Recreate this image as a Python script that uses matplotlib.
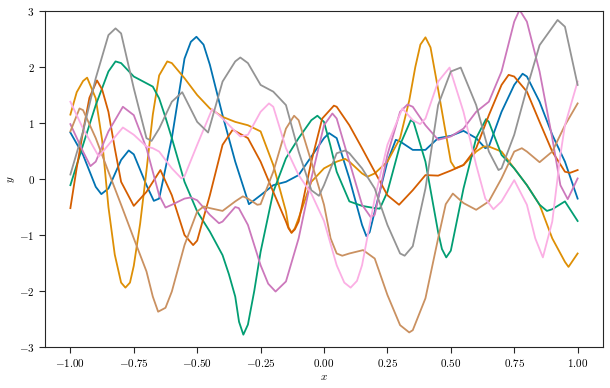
import matplotlib
matplotlib.use("Agg")
import matplotlib.pyplot as plt
from matplotlib.ticker import FuncFormatter

# values, one pair of lists per curve
blue_x = [-1.0, -0.95, -0.9, -0.878, -0.85, -0.8, -0.77, -0.75, -0.7, -0.671, -0.65, -0.6, -0.55,
          -0.525, -0.503, -0.475, -0.45, -0.4, -0.35, -0.296, -0.25, -0.2, -0.15, -0.1, -0.05,
          0.0, 0.02, 0.05, 0.1, 0.15, 0.167, 0.18, 0.2, 0.25, 0.283, 0.3, 0.35, 0.4, 0.45, 0.5,
          0.55, 0.6, 0.636, 0.65, 0.7, 0.75, 0.783, 0.8, 0.85, 0.9, 0.95, 1.0]
blue_y = [0.83, 0.43, -0.14, -0.27, -0.17, 0.34, 0.51, 0.44, -0.11, -0.39, -0.35, 0.73, 2.15,
          2.45, 2.54, 2.40, 2.04, 1.14, 0.31, -0.45, -0.29, -0.11, -0.05, 0.07, 0.40,
          0.73, 0.82, 0.73, 0.01, -0.82, -1.02, -0.95, -0.58, 0.31, 0.70, 0.67, 0.52, 0.52, 0.73, 0.77,
          0.86, 0.73, 0.55, 0.58, 1.20, 1.68, 1.88, 1.83, 1.38, 0.79, 0.31, -0.35]

orange_x = [-1.0, -0.975, -0.95, -0.934, -0.9, -0.875, -0.85, -0.825, -0.8, -0.783, -0.765, -0.75,
            -0.725, -0.7, -0.675, -0.65, -0.618, -0.6, -0.55, -0.5, -0.45, -0.4, -0.35, -0.3,
            -0.25, -0.2, -0.15, -0.14, -0.128, -0.115, -0.1, -0.05, 0.0, 0.05, 0.083, 0.1, 0.15,
            0.171, 0.2, 0.25, 0.3, 0.336, 0.36, 0.38, 0.4, 0.42, 0.45, 0.475, 0.5, 0.517, 0.55,
            0.6, 0.629, 0.65, 0.7, 0.75, 0.8, 0.85, 0.9, 0.95, 0.964, 1.0]
orange_y = [1.15, 1.55, 1.75, 1.81, 1.44, 0.70, -0.50, -1.35, -1.85, -1.94, -1.85, -1.55,
            -0.80, 0.15, 1.15, 1.85, 2.10, 2.07, 1.80, 1.50, 1.26, 1.11, 1.02, 0.96,
            0.85, 0.25, -0.58, -0.86, -0.96, -0.88, -0.70, -0.05, 0.19, 0.31, 0.36, 0.31, 0.10,
            0.04, 0.10, 0.31, 0.73, 1.40, 2.00, 2.40, 2.53, 2.35, 1.60, 0.95, 0.31, 0.19, 0.25,
            0.49, 0.58, 0.58, 0.49, 0.19, -0.11, -0.46, -1.06, -1.48, -1.57, -1.33]

green_x = [-1.0, -0.95, -0.9, -0.85, -0.822, -0.8, -0.75, -0.7, -0.675, -0.65, -0.625, -0.6,
           -0.55, -0.5, -0.45, -0.4, -0.375, -0.35, -0.335, -0.318, -0.3, -0.275, -0.25, -0.2,
           -0.15, -0.1, -0.05, -0.026, 0.0, 0.025, 0.05, 0.1, 0.15, 0.2, 0.22, 0.25, 0.3, 0.342,
           0.353, 0.4, 0.45, 0.465, 0.482, 0.5, 0.55, 0.6, 0.639, 0.65, 0.7, 0.75, 0.8, 0.85,
           0.879, 0.9, 0.95, 1.0]
green_y = [-0.11, 0.61, 1.32, 1.92, 2.10, 2.07, 1.83, 1.71, 1.65, 1.44, 1.10, 0.73,
           -0.05, -0.58, -0.94, -1.36, -1.70, -2.10, -2.55, -2.78, -2.60, -2.00, -1.30, -0.23,
           0.37, 0.73, 1.05, 1.13, 1.02, 0.60, 0.13, -0.40, -0.48, -0.52, -0.53, -0.23, 0.61, 1.05,
           1.02, 0.31, -0.95, -1.25, -1.40, -1.28, -0.17, 0.73, 1.07, 1.02, 0.43, 0.19, -0.11, -0.46,
           -0.57, -0.54, -0.40, -0.75]

red_x = [-1.0, -0.975, -0.95, -0.925, -0.895, -0.875, -0.85, -0.825, -0.8, -0.75, -0.7, -0.645,
         -0.6, -0.55, -0.516, -0.5, -0.45, -0.4, -0.36, -0.3, -0.25, -0.2, -0.15, -0.14, -0.128,
         -0.115, -0.1, -0.05, -0.007, 0.039, 0.05, 0.1, 0.15, 0.2, 0.25, 0.296, 0.35, 0.4, 0.45,
         0.5, 0.55, 0.6, 0.65, 0.7, 0.728, 0.75, 0.8, 0.85, 0.9, 0.95, 0.97, 1.0]
red_y = [-0.52, 0.20, 0.85, 1.45, 1.76, 1.60, 1.20, 0.55, -0.05, -0.48, -0.23, 0.16,
         -0.29, -1.00, -1.18, -1.10, -0.29, 0.61, 0.88, 0.73, 0.31, -0.23, -0.76, -0.88, -0.96,
         -0.90, -0.76, 0.31, 1.08, 1.31, 1.29, 0.96, 0.55, 0.13, -0.29, -0.46, -0.20, 0.07, 0.06,
         0.15, 0.25, 0.55, 1.14, 1.68, 1.86, 1.83, 1.56, 1.02, 0.49, 0.13, 0.11, 0.16]

purple_x = [-1.0, -0.95, -0.921, -0.9, -0.85, -0.793, -0.75, -0.7, -0.65, -0.625, -0.6, -0.55,
            -0.526, -0.5, -0.45, -0.414, -0.4, -0.35, -0.336, -0.3, -0.25, -0.22, -0.191, -0.15,
            -0.1, -0.05, 0.0, 0.033, 0.05, 0.1, 0.15, 0.184, 0.2, 0.25, 0.3, 0.329, 0.35, 0.4,
            0.45, 0.5, 0.55, 0.6, 0.65, 0.7, 0.75, 0.771, 0.8, 0.85, 0.9, 0.932, 0.961, 1.0]
purple_y = [0.98, 0.49, 0.23, 0.31, 0.85, 1.29, 1.14, 0.55, -0.29, -0.51, -0.46, -0.35,
            -0.33, -0.38, -0.64, -0.79, -0.76, -0.50, -0.52, -0.82, -1.54, -1.87, -2.01, -1.83,
            -1.06, 0.01, 0.96, 1.17, 1.08, 0.31, -0.46, -0.68, -0.64, 0.43, 1.20, 1.33, 1.29, 0.96,
            0.70, 0.76, 0.90, 1.20, 1.38, 1.92, 2.81, 3.02, 2.81, 1.92, 0.73, -0.11, -0.36, 0.01]

brown_x = [-1.0, -0.964, -0.95, -0.9, -0.85, -0.8, -0.75, -0.7, -0.675, -0.654, -0.625, -0.6,
           -0.55, -0.5, -0.474, -0.45, -0.4, -0.35, -0.32, -0.3, -0.263, -0.25, -0.2, -0.15,
           -0.118, -0.1, -0.05, 0.0, 0.026, 0.05, 0.072, 0.1, 0.154, 0.2, 0.25, 0.3, 0.336, 0.35,
           0.4, 0.45, 0.48, 0.508, 0.55, 0.6, 0.65, 0.7, 0.75, 0.78, 0.8, 0.85, 0.9, 0.95, 1.0]
brown_y = [0.85, 1.26, 1.23, 0.73, 0.13, -0.46, -1.06, -1.65, -2.10, -2.37, -2.30, -2.01,
           -1.18, -0.58, -0.49, -0.52, -0.57, -0.40, -0.31, -0.35, -0.46, -0.45, 0.13, 0.90,
           1.13, 1.05, 0.31, -0.46, -1.06, -1.33, -1.37, -1.33, -1.27, -1.42, -2.07, -2.61, -2.74,
           -2.70, -2.13, -1.06, -0.45, -0.26, -0.43, -0.55, -0.40, 0.01, 0.49, 0.55, 0.49, 0.30,
           0.49, 0.96, 1.35]

pink_x = [-1.0, -0.95, -0.888, -0.85, -0.793, -0.75, -0.7, -0.675, -0.65, -0.6, -0.562, -0.55,
          -0.5, -0.441, -0.4, -0.35, -0.33, -0.3, -0.25, -0.217, -0.2, -0.15, -0.1, -0.05, 0.0,
          0.05, 0.08, 0.105, 0.13, 0.15, 0.2, 0.25, 0.309, 0.35, 0.379, 0.4, 0.45, 0.495, 0.55,
          0.6, 0.636, 0.668, 0.7, 0.75, 0.8, 0.833, 0.863, 0.9, 0.932, 0.95, 1.0]
pink_y = [1.38, 0.90, 0.40, 0.61, 0.92, 0.79, 0.58, 0.55, 0.49, 0.19, 0.01, 0.05,
          0.61, 1.25, 1.08, 0.85, 0.76, 0.79, 1.20, 1.35, 1.29, 0.55, 0.07, -0.26, -0.75,
          -1.54, -1.85, -1.94, -1.82, -1.54, -0.35, 0.61, 1.26, 1.05, 0.98, 1.08, 1.74, 1.99, 1.20,
          0.25, -0.35, -0.54, -0.40, -0.02, -0.46, -1.06, -1.40, -0.76, 0.43, 0.96, 1.74]

gray_x = [-1.0, -0.95, -0.9, -0.85, -0.822, -0.8, -0.75, -0.7, -0.68, -0.65, -0.6, -0.559,
          -0.5, -0.457, -0.4, -0.35, -0.33, -0.3, -0.25, -0.2, -0.15, -0.1, -0.05, -0.02, 0.0,
          0.05, 0.083, 0.1, 0.15, 0.2, 0.25, 0.3, 0.318, 0.35, 0.4, 0.45, 0.5, 0.539, 0.6, 0.65,
          0.688, 0.7, 0.75, 0.8, 0.85, 0.921, 0.95, 1.0]
gray_y = [0.08, 0.85, 1.80, 2.57, 2.69, 2.60, 1.62, 0.73, 0.68, 0.90, 1.38, 1.55,
          1.02, 0.83, 1.74, 2.10, 2.17, 2.07, 1.68, 1.56, 1.32, 0.49, -0.20, -0.30, -0.11,
          0.46, 0.51, 0.46, 0.19, -0.17, -0.82, -1.33, -1.37, -1.20, -0.17, 1.32, 1.92, 1.99, 1.32,
          0.49, 0.16, 0.19, 0.79, 1.62, 2.39, 2.84, 2.72, 1.68]

curves = [
    (blue_x, blue_y, "#0173b2"),
    (orange_x, orange_y, "#de8f05"),
    (green_x, green_y, "#029e73"),
    (red_x, red_y, "#d55e00"),
    (purple_x, purple_y, "#cc78bc"),
    (brown_x, brown_y, "#ca9161"),
    (pink_x, pink_y, "#fbafe4"),
    (gray_x, gray_y, "#949494"),
]

plt.rcParams["mathtext.fontset"] = "cm"
plt.rcParams["axes.edgecolor"] = "#262626"

fig = plt.figure(figsize=(6.1, 3.88), dpi=100)
ax = fig.add_axes([0.0738, 0.1057, 0.9147, 0.8659])

for xs, ys, c in curves:
    ax.plot(xs, ys, color=c, lw=1.3, solid_joinstyle="round")

ax.set_xlim(-1.1, 1.1)
ax.set_ylim(-3, 3)
ax.set_xticks([-1.0, -0.75, -0.5, -0.25, 0.0, 0.25, 0.5, 0.75, 1.0])
ax.set_yticks([-3, -2, -1, 0, 1, 2, 3])
ax.xaxis.set_major_formatter(FuncFormatter(lambda v, _: f"${v:.2f}$"))
ax.yaxis.set_major_formatter(FuncFormatter(lambda v, _: f"${v:.0f}$"))
ax.tick_params(direction="out", length=4, width=0.8, labelsize=8, color="#262626")
ax.set_xlabel("$x$", fontsize=8, labelpad=2)
ax.set_ylabel("$y$", fontsize=8, labelpad=1)

fig.savefig("out.png", dpi=100)
